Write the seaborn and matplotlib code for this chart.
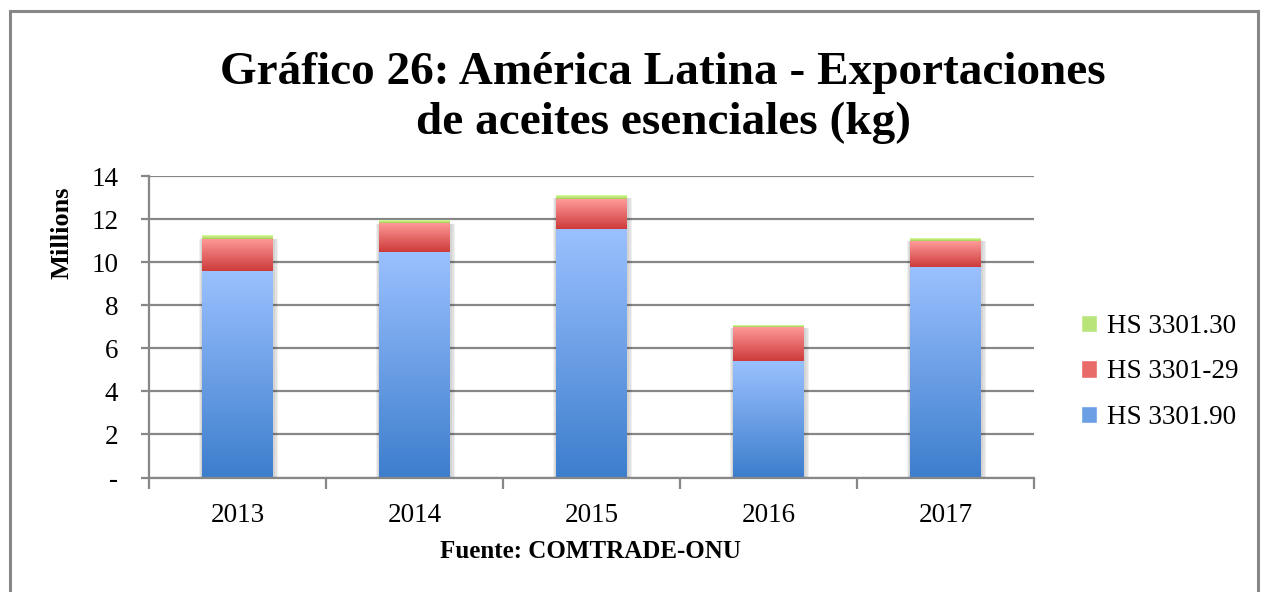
import matplotlib
matplotlib.use("Agg")
import matplotlib.pyplot as plt
import matplotlib.patches as mpatches
from matplotlib.colors import LinearSegmentedColormap
import numpy as np
import pandas as pd
import seaborn as sns

# values in millions of kg
years = ["2013", "2014", "2015", "2016", "2017"]
hs_330190 = [9.57, 10.45, 11.54, 5.39, 9.78]
hs_330129 = [1.49, 1.36, 1.39, 1.62, 1.18]
hs_330130 = [0.14, 0.10, 0.15, 0.05, 0.12]
series_names = ["HS 3301.90", "HS 3301-29", "HS 3301.30"]

# gradient colours (bottom, top)
grad = {
    "HS 3301.90": ("#3d7ecd", "#9bc1ff"),
    "HS 3301-29": ("#cd3b3a", "#ff9b9a"),
    "HS 3301.30": ("#a2cc55", "#dcffa0"),
}

sns.set_style("white")
plt.rcParams["font.family"] = ["Liberation Serif", "DejaVu Serif"]
plt.rcParams["text.color"] = "black"
plt.rcParams["xtick.labelcolor"] = "black"
plt.rcParams["ytick.labelcolor"] = "black"

fig = plt.figure(figsize=(12.64, 5.92), dpi=100)
ax = fig.add_axes([149 / 1264, 1 - 477.5 / 592, (1034 - 149) / 1264, (477.5 - 176) / 592])

df = pd.DataFrame({"year": years, "HS 3301.90": hs_330190,
                   "HS 3301-29": hs_330129, "HS 3301.30": hs_330130})

bottom = np.zeros(len(years))
layers = []
for name in series_names:
    before = len(ax.patches)
    sns.barplot(data=df, x="year", y=name, order=years, bottom=bottom,
                width=0.4, color=grad[name][0], ax=ax, zorder=3,
                err_kws={"linewidth": 0})
    layers.append((name, ax.patches[before:]))
    bottom = bottom + df[name].values

ramp = np.linspace(0, 1, 256).reshape(-1, 1)

# drop shadow behind each full stack
for p in layers[0][1]:
    x0 = p.get_x()
    w = p.get_width()
    top = bottom[int(round(x0 + w / 2))]
    for k in [0.09, 0.06, 0.03]:
        ax.add_patch(mpatches.Rectangle((x0 - k * 0.2, -0.12 - k), w + k * 0.55, top + k,
                                        facecolor="black", alpha=0.06, lw=0, zorder=2))

# replace flat fills with vertical gradients
for name, patches in layers:
    cmap = LinearSegmentedColormap.from_list(name, list(grad[name]))
    for p in patches:
        x0, y0 = p.get_x(), p.get_y()
        w, h = p.get_width(), p.get_height()
        p.set_facecolor("none")
        p.set_edgecolor("none")
        ax.imshow(ramp, cmap=cmap, origin="lower", aspect="auto",
                  extent=[x0, x0 + w, y0, y0 + h], zorder=3, interpolation="bilinear")

ax.set_xlim(-0.5, 4.5)
ax.set_ylim(0, 14)
ax.set_yticks(range(0, 15, 2))
ax.set_yticklabels(["-"] + [str(v) for v in range(2, 15, 2)])
ax.set_xlabel("")
ax.set_ylabel("")

grid_c = "#878787"
ax.yaxis.grid(True, color=grid_c, linewidth=1.6, zorder=0)
ax.xaxis.grid(False)
for s in ["top", "right"]:
    ax.spines[s].set_visible(False)
for s in ["left", "bottom"]:
    ax.spines[s].set_color(grid_c)
    ax.spines[s].set_linewidth(1.6)
    ax.spines[s].set_zorder(4)

ax.tick_params(axis="y", which="major", direction="out", length=6, width=1.6,
               color=grid_c, labelsize=19.5, pad=16, left=True)
ax.set_xticks(np.arange(-0.5, 5, 1), minor=True)
ax.tick_params(axis="x", which="minor", direction="out", length=8, width=1.6,
               color=grid_c, bottom=True)
ax.tick_params(axis="x", which="major", length=0, labelsize=19.5, pad=18.5)

fig.text(663 / 1264, 1 - 98 / 592,
         "Gráfico 26: América Latina - Exportaciones\nde aceites esenciales (kg)",
         ha="center", va="center", fontsize=34, fontweight="bold", linespacing=1.22)
fig.text(62 / 1264, 1 - 233 / 592, "Millions", rotation=90, ha="center", va="center",
         fontsize=19, fontweight="bold")
fig.text(590 / 1264, 1 - 551 / 592, "Fuente: COMTRADE-ONU", ha="center", va="center",
         fontsize=18, fontweight="bold")

handles = [mpatches.Patch(facecolor="#b8e47a", label="HS 3301.30"),
           mpatches.Patch(facecolor="#e86a69", label="HS 3301-29"),
           mpatches.Patch(facecolor="#6a9fe6", label="HS 3301.90")]
fig.legend(handles=handles, loc="center left", bbox_to_anchor=(1070 / 1264, 1 - 372 / 592),
           frameon=False, fontsize=19.5, handlelength=0.6, handleheight=0.6,
           handletextpad=0.35, labelspacing=0.75, borderaxespad=0)

# outer chart frame
fig.add_artist(mpatches.Rectangle((10 / 1264, -0.05), 1248 / 1264, 1.05 - 11 / 592,
                                  transform=fig.transFigure, fill=False,
                                  edgecolor="#878787", linewidth=2.2))

fig.savefig("out.png", dpi=100)
